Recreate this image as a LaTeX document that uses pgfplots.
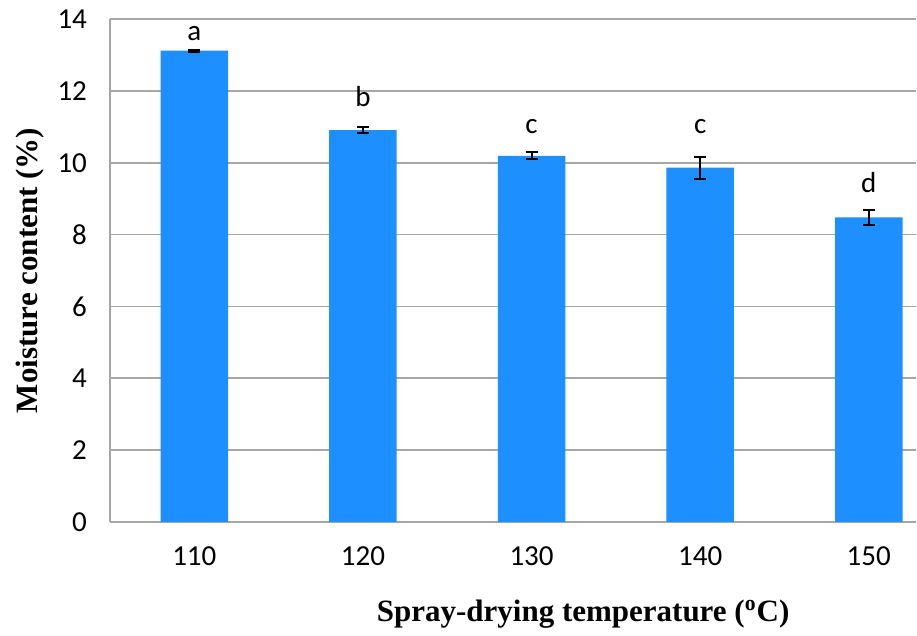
\documentclass[border=0pt]{standalone}
\usepackage{fontspec}
\setmainfont{Liberation Serif}
\newfontfamily\calib{Carlito}
\usepackage{pgfplots}
\pgfplotsset{compat=1.18}
\definecolor{barblue}{HTML}{1E8FFF}
\definecolor{gridgray}{HTML}{A6A6A6}
\begin{document}
\begin{tikzpicture}
\begin{axis}[
  scale only axis,
  width=403pt, height=251.5pt,
  xmin=-0.5, xmax=4.28,
  ymin=0, ymax=14,
  ytick={0,2,...,14},
  xtick={0,1,2,3,4},
  xticklabels={110,120,130,140,150},
  major tick length=0pt,
  axis x line*=bottom, axis y line*=left,
  axis line style={gridgray, line width=0.8pt},
  ymajorgrids,
  grid style={gridgray, line width=0.8pt},
  tick label style={font=\calib\fontsize{14.5}{16}\selectfont},
  /pgf/number format/assume math mode=true,
  xticklabel style={yshift=-9pt},
  yticklabel style={xshift=-8pt},
  xlabel={\bfseries Spray-drying temperature (\textsuperscript{o}C)},
  ylabel={\bfseries Moisture content (\%)},
  label style={font=\fontsize{15.5}{17}\selectfont},
  xlabel style={at={(axis description cs:0.587,0)}, anchor=center, yshift=-46pt},
  ylabel style={at={(axis description cs:0,0.5)}, anchor=center, yshift=40pt},
  clip=false,
]
\addplot[ybar, bar width=0.4, fill=barblue, draw=none,
  error bars/.cd, y dir=both, y explicit,
  error bar style={black, line width=1pt},
  error mark options={rotate=90, mark size=3pt, black, line width=1pt}]
  coordinates {
    (0,13.12) +- (0,0.03)
    (1,10.91) +- (0,0.09)
    (2,10.19) +- (0,0.10)
    (3,9.86) +- (0,0.31)
    (4,8.48) +- (0,0.21)
  };
\begin{scope}[font=\calib\fontsize{14.5}{16}\selectfont]
\node at (axis cs:0,13.6) {a};
\node at (axis cs:1,11.85) {b};
\node at (axis cs:2,11.0) {c};
\node at (axis cs:3,11.0) {c};
\node at (axis cs:4,9.45) {d};
\end{scope}
\coordinate (o) at (axis cs:-0.5,0);
\end{axis}
\pgfresetboundingbox
\path[use as bounding box] (o) ++(-55pt,-57pt) rectangle ++(458.5pt,318pt);
\end{tikzpicture}
\end{document}
